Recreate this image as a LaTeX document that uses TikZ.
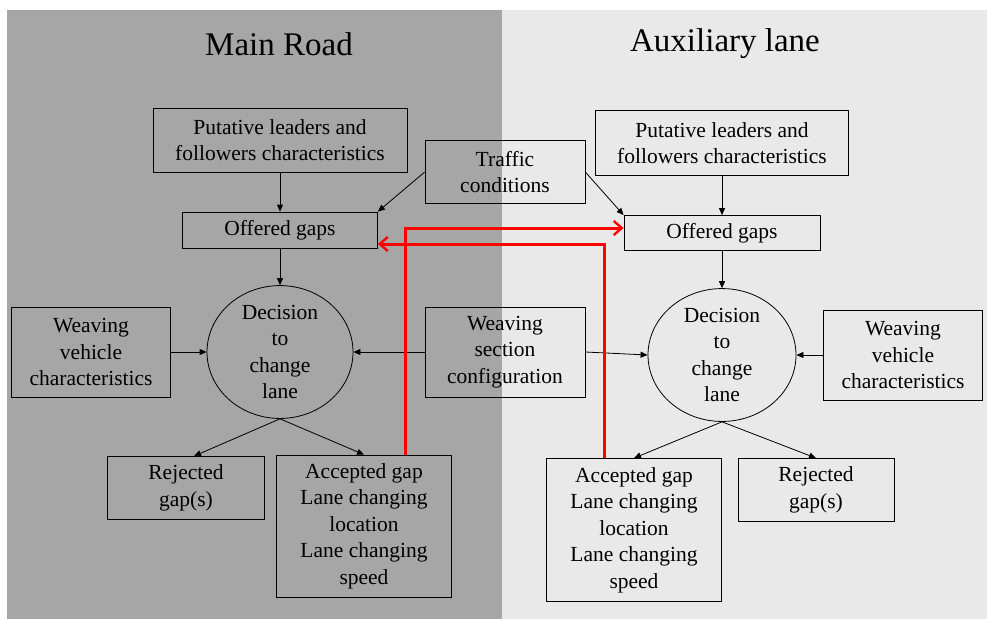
\documentclass[tikz,border=0pt]{standalone}
\usepackage{fontspec}
\setmainfont{Liberation Serif}
\usetikzlibrary{shapes.geometric,arrows.meta,calc}
\definecolor{darkbg}{HTML}{A6A6A6}
\definecolor{lightbg}{HTML}{E9E9E9}
\definecolor{redline}{HTML}{FF0000}
\begin{document}
\begin{tikzpicture}[x=1pt,y=-1pt,
  box/.style={draw=black,line width=0.8pt,align=center,inner sep=0pt,font=\fontsize{21.5}{26.5}\selectfont},
  oval/.style={draw=black,line width=0.8pt,ellipse,align=center,inner sep=0pt,font=\fontsize{21.5}{26.5}\selectfont},
  arr/.style={-{Triangle[length=7pt,width=6pt]},line width=0.8pt,black},
  redarr/.style={-{Straight Barb[length=8pt,width=14pt,line width=2.4pt]},line width=3pt,redline},
  title/.style={font=\fontsize{33}{36}\selectfont}]
\useasboundingbox (0,0) rectangle (987,619);
\fill[white] (0,0) rectangle (987,619);
\fill[darkbg] (7,10) rectangle (502,619);
\fill[lightbg] (502,10) rectangle (987,619);

\node[title] (tL) at (279,44) {Main Road};
\node[title] (tR) at (725,44) {Auxiliary lane};

% left column
\node[box,minimum width=254,minimum height=64] (putL) at (280,140) {Putative leaders and\\followers characteristics};
\node[box,minimum width=195,minimum height=36] (offL) at (280,230) {Offered gaps};
\node[oval,minimum width=146,minimum height=126] (decL) at (280,352) {Decision\\to\\change\\lane};
\node[box,minimum width=159,minimum height=90] (wvL) at (91,352) {Weaving\\vehicle\\characteristics};
\node[box,minimum width=157,minimum height=63] (rejL) at (186,488) {Rejected\\gap(s)};
\node[box,minimum width=175,minimum height=142] (accL) at (364,526) {Accepted gap\\Lane changing\\location\\Lane changing\\speed};

% middle
\node[box,minimum width=160,minimum height=63] (traf) at (505,172) {Traffic\\conditions};
\node[box,minimum width=160,minimum height=90] (wsc) at (505,352) {Weaving\\section\\configuration};

% right column
\node[box,minimum width=253,minimum height=65] (putR) at (722,143) {Putative leaders and\\followers characteristics};
\node[box,minimum width=196,minimum height=35] (offR) at (722,233) {Offered gaps};
\node[oval,minimum width=148,minimum height=125] (decR) at (722,355) {Decision\\to\\change\\lane};
\node[box,minimum width=159,minimum height=90] (wvR) at (903,355) {Weaving\\vehicle\\characteristics};
\node[box,minimum width=175,minimum height=143] (accR) at (634,530) {Accepted gap\\Lane changing\\location\\Lane changing\\speed};
\node[box,minimum width=156,minimum height=63] (rejR) at (816,490) {Rejected\\gap(s)};

% black arrows
\draw[arr] (putL) -- (offL);
\draw[arr] (putR) -- (offR);
\draw[arr] ($(traf.north west)+(0,32)$) -- (offL.north east);
\draw[arr] ($(traf.north east)+(0,32)$) -- (offR.north west);
\draw[arr] (offL) -- (decL);
\draw[arr] (offR) -- (decR);
\draw[arr] (wvL) -- (decL.west);
\draw[arr] (wsc.west) -- (decL.east);
\draw[arr] (wsc.east) -- (decR.west);
\draw[arr] (wvR) -- (decR.east);
\draw[arr] (decL.south) -- ($(rejL.north)+(8,0)$);
\draw[arr] (decL.south) -- (accL.north);
\draw[arr] (decR.south) -- (accR.north);
\draw[arr] (decR.south) -- (rejR.north);

% red arrows
\coordinate (r1) at (405,455);
\coordinate (r2) at (604,458);
\draw[redarr] (r1) |- ($(offR.west)+(0,-5)$);
\draw[redarr] (r2) |- ($(offL.east)+(0,14)$);
\end{tikzpicture}
\end{document}
